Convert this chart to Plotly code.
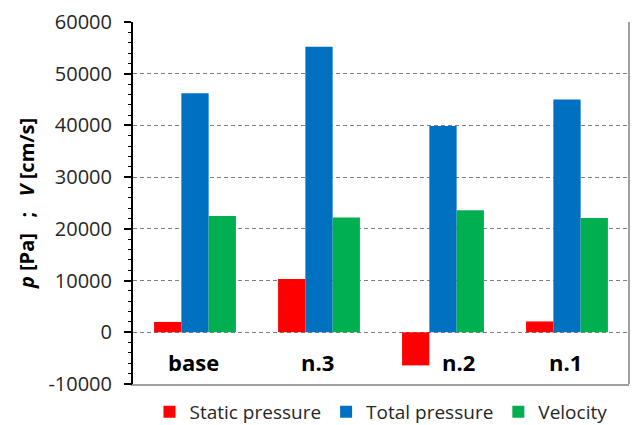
import plotly.graph_objects as go

categories = ["base", "n.3", "n.2", "n.1"]
static_pressure = [2000, 10300, -6400, 2100]
total_pressure = [46200, 55200, 39900, 45000]
velocity = [22500, 22200, 23600, 22100]
series_names = ["Static pressure", "Total pressure", "Velocity"]
colors = ["#FF0000", "#0070C0", "#00B050"]
y_ticks = [-10000, 0, 10000, 20000, 30000, 40000, 50000, 60000]
y_ticktext = ["-10000", "0", "10000", "20000", "30000", "40000", "50000", "60000"]
label_y = -5800

fig = go.Figure()
for name, vals, col in zip(series_names, [static_pressure, total_pressure, velocity], colors):
    fig.add_trace(go.Bar(x=categories, y=vals, name=name, marker_color=col,
                         marker_line_width=0))

# category labels sit next to the zero line; the one beside a negative bar moves right
for c, s in zip(categories, static_pressure):
    fig.add_annotation(x=c, y=label_y, xref="x", yref="y", text="<b>%s</b>" % c,
                       showarrow=False, xshift=(15 if s < 0 else -2),
                       font=dict(family="Open Sans", size=22, color="#000000"))

fig.update_layout(
    width=635, height=425,
    margin=dict(l=133, r=6, t=22, b=41, autoexpand=False),
    paper_bgcolor="white", plot_bgcolor="white",
    barmode="group", bargap=0.34, bargroupgap=0,
    font=dict(family="Open Sans", color="#262626"),
    showlegend=True,
    legend=dict(orientation="h", x=0.5, xanchor="center", xref="paper",
                y=0.031, yanchor="middle", yref="container",
                font=dict(size=19, color="#262626"), itemwidth=30, tracegroupgap=0),
    xaxis=dict(showticklabels=False, showgrid=False, zeroline=False, ticks="",
               showline=True, linecolor="#A0A0A0", linewidth=2, mirror=False,
               range=[-0.5, 3.5]),
    yaxis=dict(range=[-10000, 60000], tickvals=y_ticks, ticktext=y_ticktext,
               tickfont=dict(size=20, color="#262626"),
               showgrid=True, gridcolor="#7F7F7F", griddash="4px,3px", gridwidth=1,
               zeroline=False,
               showline=True, linecolor="#000000", linewidth=2,
               ticks="outside", ticklen=7, tickcolor="#000000", tickwidth=2,
               ticklabelstandoff=8,
               title=dict(text="<b><i>p</i> [Pa]   ;   <i>V</i> [cm/s]</b>",
                          font=dict(size=20, color="#000000"), standoff=8)),
    yaxis2=dict(range=[-10000, 60000], dtick=2000, overlaying="y", side="left",
                anchor="x", showticklabels=False, showgrid=False, zeroline=False,
                showline=False, ticks="outside", ticklen=4, tickcolor="#000000",
                tickwidth=1),
)
# invisible trace to activate minor-tick axis
fig.add_trace(go.Scatter(x=[categories[0]], y=[0], yaxis="y2", mode="markers",
                         marker=dict(opacity=0), showlegend=False, hoverinfo="skip"))
# right border line
fig.add_shape(type="line", xref="paper", yref="paper", x0=1, x1=1, y0=0, y1=1,
              line=dict(color="#A0A0A0", width=2))

fig.write_html("out.html", config={"displayModeBar": False},
               post_script="document.body.style.margin='0';document.body.style.overflow='hidden';")
